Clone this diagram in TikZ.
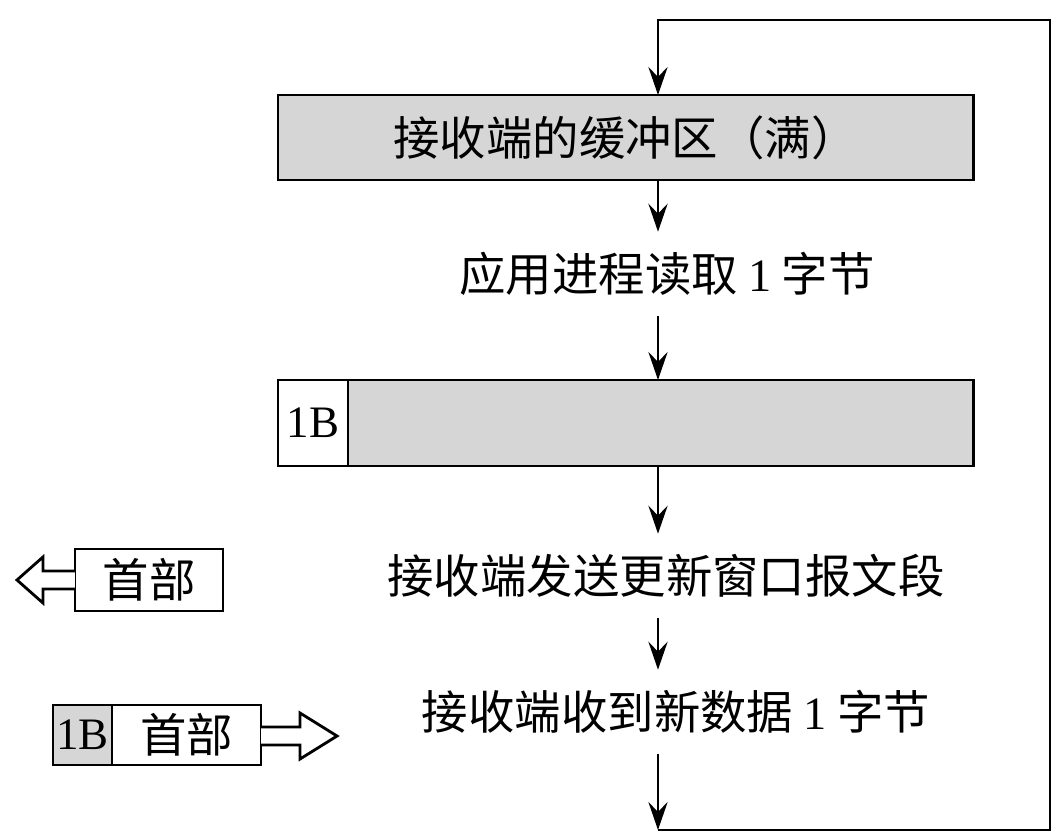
\documentclass[tikz,border=0pt]{standalone}
\usepackage{fontspec}
\setmainfont{Liberation Serif}
\newfontfamily\cjk{Noto Sans CJK SC}
\usetikzlibrary{positioning, arrows.meta, calc}

\begin{document}
\begin{tikzpicture}[
    x=0.025cm, y=-0.025cm,
    font=\fontsize{32}{38}\selectfont,
    box/.style={draw, line width=2pt, fill=black!16, outer sep=0pt, inner sep=0pt,
                minimum height=2.125cm},
    hb/.style={box, minimum height=1.55cm},
    lbl/.style={font=\cjk\fontsize{33}{38}\selectfont, minimum height=2.1cm, inner sep=0pt},
    a/.style={-{Stealth[length=7mm, width=4.8mm, inset=2.5mm]}, line width=2pt},
    hol/.style={draw, line width=2pt, fill=white},
  ]
    \useasboundingbox (0,0) rectangle (1057,839);
    \coordinate (ax) at (658,0);
    \coordinate (corner) at (1050,20);

    % receiver buffer, full
    \node[box, minimum width=17.375cm, font=\cjk\fontsize{33}{38}\selectfont] (buf) at (625.5,137.5)
      {接收端的缓冲区（满）};
    \node[lbl] (rd) at (667,274) {应用进程读取 {\rmfamily 1} 字节};

    % buffer with one free byte
    \node[box, fill=white, minimum width=1.75cm, minimum height=2.15cm] (free) at (313,423) {1B};
    \node[box, minimum width=15.625cm, minimum height=2.15cm, right=0pt of free] (buf2) {};

    \node[lbl] (snd) at (666,576) {接收端发送更新窗口报文段};
    \node[lbl] (rcv) at (676,712) {接收端收到新数据 {\rmfamily 1} 字节};
    \coordinate (bot) at (658,830);

    % segments on the left
    \node[hb, fill=white, minimum width=3.7cm, font=\cjk\fontsize{33}{38}\selectfont] (hdr1) at (149,580) {首部};
    \node[hb, minimum width=1.475cm, minimum height=1.5cm] (seg1b) at (82.5,735) {1B};
    \node[hb, fill=white, minimum width=3.725cm, minimum height=1.5cm, right=0pt of seg1b,
          font=\cjk\fontsize{33}{38}\selectfont] (hdr2) {首部};

    \draw[hol] ($(hdr1.west)+(0,-9)$) -- ++(-32,0) -- ++(0,-14) -- ++(-26,23)
      -- ++(26,23) -- ++(0,-14) -- ++(32,0);
    \draw[hol] ($(hdr2.east)+(0,-8)$) -- ++(39,0) -- ++(0,-14) -- ++(37,23)
      -- ++(-37,23) -- ++(0,-14) -- ++(-39,0);

    % flow
    \draw[a] (buf.south -| ax) -- (rd.north -| ax);
    \draw[a] (rd.south -| ax) -- (buf2.north -| ax);
    \draw[a] (buf2.south -| ax) -- (snd.north -| ax);
    \draw[a] (snd.south -| ax) -- (rcv.north -| ax);
    \draw[a] (rcv.south -| ax) -- (bot);
    \draw[a] (bot) -| (corner) -| (buf.north -| ax);
  \end{tikzpicture}
\end{document}
